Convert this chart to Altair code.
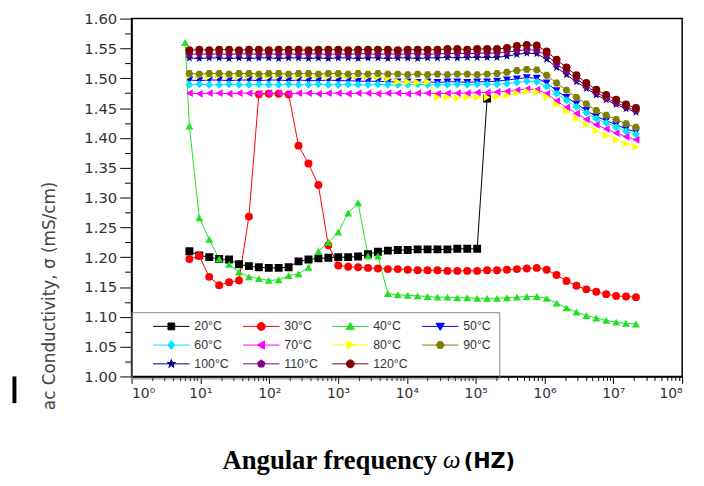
import altair as alt
import pandas as pd

# ---------------- data ----------------
series_names = ["20°C", "30°C", "40°C", "50°C", "60°C", "70°C",
                "80°C", "90°C", "100°C", "110°C", "120°C"]
series_colors = ["#000000", "#ff0000", "#22e022", "#0000ff", "#00e5ff", "#ff00ff",
                 "#ffff00", "#808000", "#000080", "#800080", "#800000"]

freq = [6.92, 9.64, 13.44, 18.73, 26.11, 36.39, 50.72, 70.70, 98.5, 137.3,
        191.4, 266.8, 371.9, 518.2, 722.4, 1007, 1404, 1956, 2727, 3800,
        5297, 7382, 10290, 14340, 19990, 27860, 38830, 54120, 75430, 105100,
        146600, 204300, 284700, 396800, 553100, 770900, 1074000, 1498000, 2087000, 2909000,
        4055000, 5652000, 7877000, 10980000, 15300000, 21330000]
freq_20C = freq[:31]
freq_40C = [6.0] + freq

sigma_20C = [1.210, 1.203, 1.200, 1.197, 1.196, 1.188, 1.185, 1.183, 1.182, 1.182,
             1.183, 1.193, 1.196, 1.198, 1.199, 1.200, 1.200, 1.201, 1.205, 1.209,
             1.211, 1.212, 1.212, 1.213, 1.213, 1.213, 1.213, 1.214, 1.214, 1.214,
             1.466]
sigma_30C = [1.197, 1.202, 1.167, 1.153, 1.158, 1.161, 1.268, 1.473, 1.474, 1.474,
             1.473, 1.387, 1.357, 1.321, 1.220, 1.186, 1.184, 1.183, 1.182, 1.181,
             1.180, 1.180, 1.179, 1.178, 1.178, 1.178, 1.177, 1.177, 1.177, 1.177,
             1.178, 1.178, 1.179, 1.180, 1.181, 1.182, 1.179, 1.170, 1.160, 1.152,
             1.146, 1.142, 1.138, 1.135, 1.134, 1.133]
sigma_40C = [1.560,
             1.420, 1.266, 1.230, 1.197, 1.188, 1.175, 1.167, 1.164, 1.161, 1.162,
             1.169, 1.172, 1.183, 1.210, 1.225, 1.242, 1.274, 1.291, 1.202, 1.202,
             1.139, 1.137, 1.136, 1.135, 1.134, 1.133, 1.133, 1.132, 1.132, 1.131,
             1.131, 1.131, 1.132, 1.133, 1.134, 1.134, 1.131, 1.123, 1.115, 1.108,
             1.102, 1.098, 1.094, 1.091, 1.089, 1.088]
sigma_50C = [1.497, 1.496, 1.497, 1.497, 1.496, 1.497, 1.497, 1.496, 1.497, 1.497,
             1.496, 1.497, 1.496, 1.496, 1.497, 1.496, 1.496, 1.495, 1.495, 1.495,
             1.494, 1.494, 1.494, 1.493, 1.494, 1.493, 1.494, 1.494, 1.493, 1.494,
             1.494, 1.495, 1.497, 1.499, 1.501, 1.500, 1.492, 1.479, 1.468, 1.457,
             1.446, 1.436, 1.429, 1.422, 1.415, 1.410]
sigma_60C = [1.489, 1.490, 1.489, 1.489, 1.490, 1.489, 1.489, 1.490, 1.489, 1.489,
             1.490, 1.489, 1.489, 1.490, 1.489, 1.489, 1.490, 1.489, 1.489, 1.490,
             1.489, 1.489, 1.489, 1.490, 1.489, 1.489, 1.489, 1.490, 1.489, 1.490,
             1.490, 1.490, 1.491, 1.493, 1.495, 1.494, 1.486, 1.474, 1.463, 1.452,
             1.442, 1.432, 1.425, 1.418, 1.411, 1.406]
sigma_70C = [1.475, 1.474, 1.475, 1.475, 1.474, 1.475, 1.475, 1.474, 1.475, 1.475,
             1.474, 1.475, 1.475, 1.474, 1.475, 1.475, 1.474, 1.475, 1.475, 1.474,
             1.475, 1.475, 1.474, 1.475, 1.475, 1.474, 1.475, 1.475, 1.475, 1.476,
             1.476, 1.477, 1.478, 1.480, 1.482, 1.481, 1.474, 1.462, 1.451, 1.441,
             1.431, 1.422, 1.415, 1.408, 1.402, 1.397]
sigma_80C = [1.504, 1.504, 1.503, 1.504, 1.504, 1.503, 1.504, 1.504, 1.503, 1.504,
             1.504, 1.503, 1.504, 1.504, 1.503, 1.504, 1.503, 1.504, 1.503, 1.502,
             1.500, 1.494, 1.494, 1.493, 1.494, 1.468, 1.468, 1.467, 1.468, 1.468,
             1.468, 1.469, 1.471, 1.475, 1.478, 1.477, 1.469, 1.456, 1.445, 1.433,
             1.422, 1.412, 1.404, 1.397, 1.390, 1.385]
sigma_90C = [1.508, 1.507, 1.508, 1.508, 1.507, 1.508, 1.508, 1.507, 1.508, 1.508,
             1.507, 1.508, 1.508, 1.507, 1.508, 1.508, 1.507, 1.508, 1.507, 1.508,
             1.507, 1.507, 1.506, 1.507, 1.506, 1.507, 1.506, 1.507, 1.507, 1.506,
             1.507, 1.508, 1.510, 1.513, 1.515, 1.514, 1.505, 1.492, 1.480, 1.468,
             1.457, 1.446, 1.438, 1.431, 1.424, 1.418]
sigma_100C = [1.534, 1.533, 1.534, 1.534, 1.533, 1.534, 1.533, 1.534, 1.534, 1.533,
              1.534, 1.534, 1.533, 1.534, 1.533, 1.534, 1.534, 1.533, 1.534, 1.534,
              1.533, 1.534, 1.534, 1.533, 1.534, 1.534, 1.535, 1.534, 1.535, 1.535,
              1.535, 1.535, 1.537, 1.540, 1.542, 1.541, 1.532, 1.518, 1.506, 1.494,
              1.483, 1.472, 1.464, 1.456, 1.449, 1.443]
sigma_110C = [1.540, 1.541, 1.540, 1.541, 1.540, 1.541, 1.541, 1.540, 1.541, 1.540,
              1.541, 1.540, 1.541, 1.541, 1.540, 1.541, 1.540, 1.541, 1.541, 1.540,
              1.541, 1.540, 1.541, 1.541, 1.540, 1.541, 1.541, 1.542, 1.541, 1.542,
              1.542, 1.542, 1.544, 1.546, 1.548, 1.547, 1.538, 1.524, 1.511, 1.499,
              1.487, 1.476, 1.467, 1.459, 1.452, 1.446]
sigma_120C = [1.547, 1.548, 1.547, 1.548, 1.548, 1.547, 1.548, 1.548, 1.547, 1.548,
              1.548, 1.548, 1.547, 1.548, 1.548, 1.548, 1.547, 1.548, 1.548, 1.548,
              1.548, 1.547, 1.548, 1.548, 1.548, 1.548, 1.549, 1.549, 1.548, 1.549,
              1.549, 1.549, 1.551, 1.554, 1.556, 1.555, 1.545, 1.531, 1.518, 1.505,
              1.492, 1.481, 1.472, 1.464, 1.456, 1.450]

x_major_ticks = [1, 10, 100, 1000, 1e4, 1e5, 1e6, 1e7, 1e8]
x_minor_ticks = [m * 10 ** k for k in range(8) for m in range(2, 10)]
y_ticks = [1.00, 1.05, 1.10, 1.15, 1.20, 1.25, 1.30, 1.35, 1.40, 1.45, 1.50, 1.55, 1.60]
y_minor_ticks = [round(1.025 + 0.05 * k, 3) for k in range(12)]

series_data = [
    (freq_20C, sigma_20C), (freq, sigma_30C), (freq_40C, sigma_40C), (freq, sigma_50C),
    (freq, sigma_60C), (freq, sigma_70C), (freq, sigma_80C), (freq, sigma_90C),
    (freq, sigma_100C), (freq, sigma_110C), (freq, sigma_120C),
]
rows = []
for k, (name, (fs, vs)) in enumerate(zip(series_names, series_data)):
    assert len(fs) == len(vs), name
    for f, v in zip(fs, vs):
        rows.append({"series": name, "k": k, "freq": f, "sigma": v})
df = pd.DataFrame(rows)

# ---------------- marker shapes ----------------
hexagon = "M1,0L0.5,0.866L-0.5,0.866L-1,0L-0.5,-0.866L0.5,-0.866Z"
star = ("M0,-1.1L0.265,-0.364L1.046,-0.34L0.428,0.139L0.647,0.89L0,0.45"
        "L-0.647,0.89L-0.428,0.139L-1.046,-0.34L-0.265,-0.364Z")
pentagon = "M0,-1L0.951,-0.309L0.588,0.809L-0.588,0.809L-0.951,-0.309Z"
circle_p = "M1,0A1,1,0,1,1,-1,0A1,1,0,1,1,1,0Z"
point_shapes = ["square", "circle", "triangle-up", "triangle-down", "diamond",
                "triangle-left", "triangle-right", hexagon, star, pentagon, "circle"]
seg = "M-4.6,0L4.6,0"
legend_shapes = [
    seg + "M-0.85,-0.85L0.85,-0.85L0.85,0.85L-0.85,0.85Z",
    seg + circle_p,
    seg + "M0,-1L1.05,0.8L-1.05,0.8Z",
    seg + "M0,1L1.05,-0.8L-1.05,-0.8Z",
    seg + "M0,-1.15L0.85,0L0,1.15L-0.85,0Z",
    seg + "M-1,0L0.8,-1.05L0.8,1.05Z",
    seg + "M1,0L-0.8,-1.05L-0.8,1.05Z",
    seg + hexagon, seg + star, seg + pentagon, seg + circle_p,
]

# ---------------- encodings ----------------
xscale = alt.Scale(type="log", domain=[1, 1e8])
yscale = alt.Scale(domain=[1.0, 1.6])
sup_expr = ("'10' + ['\u2070','\u00b9','\u00b2','\u00b3','\u2074','\u2075','\u2076','\u2077','\u2078']"
            "[round(log(datum.value)/LN10)]")

x_major = alt.X("freq:Q", scale=xscale, axis=alt.Axis(
    values=x_major_ticks, labelExpr=sup_expr, grid=False, orient="bottom",
    tickSize=7, tickColor="black", domainColor="black", domainWidth=1.5,
    labelFont="DejaVu Sans", labelFontSize=14, labelColor="#333", labelPadding=3,
    title="Angular frequency", titleFont="Liberation Serif", titleFontSize=27,
    titleFontWeight="bold", titleColor="black", titleX=200, titleY=93,
    titleBaseline="alphabetic", titleAlign="center"))
y_major = alt.Y("sigma:Q", scale=yscale, axis=alt.Axis(
    values=y_ticks, format=".2f", grid=False, orient="left",
    tickSize=12, tickColor="black", domainColor="black", domainWidth=1.5,
    labelFont="DejaVu Sans", labelFontSize=15, labelColor="#333", labelPadding=3,
    title="ac Conductivity, σ (mS/cm)", titleFont="DejaVu Sans", titleFontSize=17,
    titleFontWeight="normal", titleColor="#444", titleX=-83, titleY=280,
    titleBaseline="middle", titleAlign="center"))
x_minor = alt.X("freq:Q", scale=xscale, axis=alt.Axis(
    values=x_minor_ticks, labels=False, grid=False, domain=False, orient="bottom",
    tickSize=4, tickColor="black", title=None))
y_minor = alt.Y("sigma:Q", scale=yscale, axis=alt.Axis(
    values=y_minor_ticks, labels=False, grid=False, domain=False, orient="left",
    tickSize=7, tickColor="black", title=None))

color_scale = alt.Scale(domain=series_names, range=series_colors)

lines = alt.Chart(df).mark_line(strokeWidth=1, clip=True).encode(
    x=x_major, y=y_major,
    color=alt.Color("series:N", scale=color_scale, legend=None),
    order="freq:Q",
)
points = alt.Chart(df).mark_point(filled=True, size=64, opacity=1, clip=True).encode(
    x=x_minor, y=y_minor,
    color=alt.Color("series:N", scale=color_scale, legend=None),
    shape=alt.Shape("series:N", scale=alt.Scale(domain=series_names, range=point_shapes), legend=None),
    order="k:Q",
)

legend_def = alt.Legend(
    orient="none", legendX=0, legendY=297, columns=4, direction="horizontal", title=None,
    strokeColor="#888", padding=8, symbolSize=64, symbolStrokeWidth=1,
    symbolOffset=26, labelOffset=17, columnPadding=0, rowPadding=5,
    labelFont="Liberation Sans", labelFontSize=12.5, labelColor="#333",
)
legend_layer = alt.Chart(df).transform_filter("false").mark_point(
    filled=False, opacity=1, size=64, strokeWidth=1).encode(
    color=alt.Color("series:N", scale=color_scale, legend=legend_def),
    fill=alt.Fill("series:N", scale=color_scale, legend=legend_def),
    shape=alt.Shape("series:N", scale=alt.Scale(domain=series_names, range=legend_shapes),
                    legend=legend_def),
)

label_df = pd.DataFrame({"t": ["ω"]})
omega = alt.Chart(label_df).mark_text(
    font="Liberation Serif", fontStyle="italic", fontSize=25, color="black",
    align="left", baseline="alphabetic").encode(
    text="t:N", x=alt.value(315), y=alt.value(455))
hz_df = pd.DataFrame({"t": ["(HZ)"]})
hz = alt.Chart(hz_df).mark_text(
    font="DejaVu Sans", fontWeight="bold", fontSize=21, color="black",
    align="left", baseline="alphabetic").encode(
    text="t:N", x=alt.value(336), y=alt.value(455))
bar = alt.Chart(label_df).mark_rule(strokeWidth=4, color="black").encode(
    x=alt.value(-118.5), y=alt.value(362), y2=alt.value(389))

chart = alt.layer(lines, points, legend_layer, omega, hz, bar).resolve_scale(
    color="independent", shape="independent", fill="independent"
).resolve_axis(x="independent", y="independent").properties(
    width=557, height=362,
    padding={"left": 125, "top": 8, "right": 14, "bottom": 100},
    autosize=alt.AutoSizeParams(type="none"),
).configure_view(stroke="black", strokeWidth=1.5)

chart.save("out.html", embed_options={"renderer": "svg", "actions": False})
